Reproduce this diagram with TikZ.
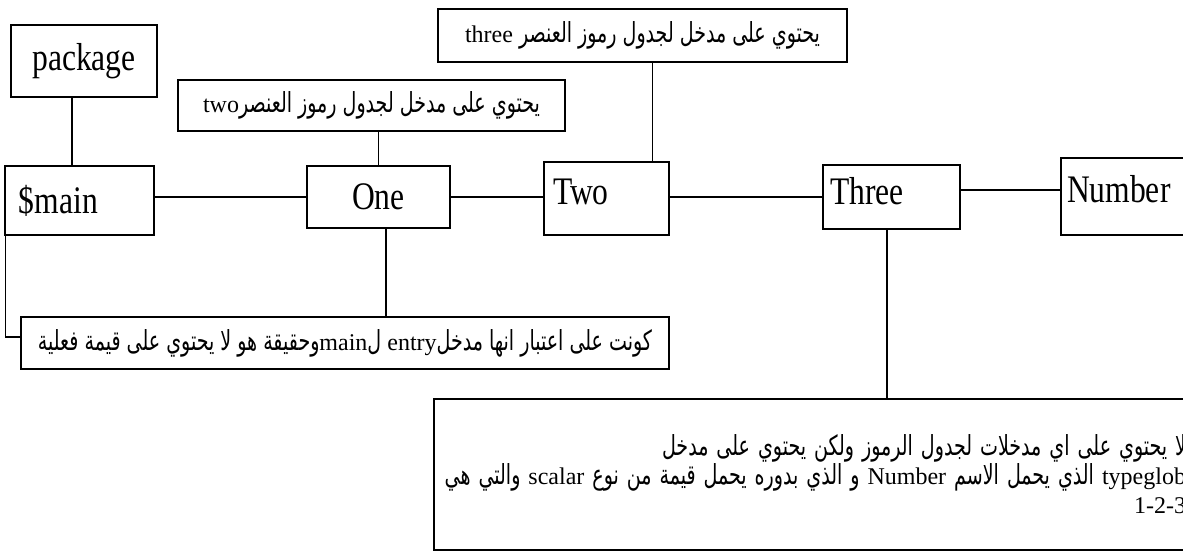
\documentclass[tikz,border=0pt]{standalone}
\usepackage{fontspec}
\setmainfont{Liberation Serif}
\newfontfamily\boxfont{Liberation Serif}[FakeStretch=0.81]
\newfontfamily\arabicfont{DejaVu Sans}[Script=Arabic,Scale=1.15,FakeStretch=0.69]
\TeXXeTstate=1
\usetikzlibrary{positioning, calc}

\tikzset{
  box/.style={shape=rectangle, draw=black, line width=1.3pt, inner sep=0pt, font=\boxfont\fontsize{39}{45}\selectfont},
  lbl/.style={shape=rectangle, draw=black, line width=1.3pt, inner sep=0pt, font=\fontsize{24}{29}\selectfont},
}

\begin{document}
\begin{tikzpicture}[x=1pt, y=-1pt, line width=1.3pt]
    \useasboundingbox (0,0) rectangle (1183,551);
    \clip (0,0) rectangle (1183,551);
    % the chain of names
    \node[box, minimum width=146pt, minimum height=72pt] (package) at (84,61) {package};
    \node[box, minimum height=69pt, text width=121pt, inner xsep=14pt, align=left] (smain) at (79.5,200.5) {\$main};
    \node[box, minimum width=143pt, minimum height=62pt] (one) at (378.5,197) {One};
    \node[box, minimum height=73pt, text width=107pt, inner xsep=9pt, align=left, text height=27pt, text depth=16pt] (two) at (606.5,198.5) {Two};
    \node[box, minimum height=64pt, text width=123pt, inner xsep=7pt, align=left, text height=27pt, text depth=13pt] (three) at (891.5,197) {Three};
    \node[box, minimum height=77pt, text width=138pt, inner xsep=6pt, align=left, text height=27pt, text depth=16pt] (number) at (1136,196.5) {Number};
    % notes
    \node[lbl, minimum width=387pt, minimum height=51pt] (twolbl) at (371.5,105.5) {\arabicfont\beginR يحتوي على مدخل لجدول رموز العنصر\beginL{\rmfamily two}\endL\endR};
    \node[lbl, minimum width=409pt, minimum height=53pt] (threelbl) at (642.5,35.5) {\arabicfont\beginR يحتوي على مدخل لجدول رموز العنصر \beginL{\rmfamily three}\endL\endR};
    \node[lbl, minimum width=648pt, minimum height=52pt] (mainlbl) at (345,343) {\arabicfont\beginR كونت على اعتبار انها مدخل\beginL{\rmfamily entry}\endL{} ل\beginL{\rmfamily main}\endL وحقيقة هو لا يحتوي على قيمة فعلية\endR};
    \node[lbl, minimum height=151pt, text width=746pt, inner xsep=6pt, align=right] (typelbl) at (813,474.5) {\arabicfont
      \beginR لا يحتوي على اي مدخلات لجدول الرموز ولكن يحتوي على مدخل\endR\\
      \beginR\beginL{\rmfamily typeglob}\endL{} الذي يحمل الاسم \beginL{\rmfamily Number}\endL{} و الذي بدوره يحمل قيمة من نوع \beginL{\rmfamily scalar}\endL{} والتي هي\endR\\
      \beginR\beginL{\rmfamily 1-2-3}\endL\endR};
    % connectors
    \draw ([xshift=-12pt]package.south) -- ([xshift=-12pt]package.south |- smain.north);
    \draw (smain.east |- one) -- (one.west);
    \draw (twolbl.south -| one) -- (one.north);
    \draw ([xshift=7.5pt]one.south) -- ([xshift=7.5pt]one.south |- mainlbl.north);
    \draw ([xshift=1pt]smain.south west) |- ([yshift=6pt]mainlbl.west);
    \draw ([xshift=10pt]threelbl.south) -- ([xshift=10pt]threelbl.south |- two.north);
    \draw (one.east) -- (one.east -| two.west);
    \draw (two.east |- three) -- (three.west);
    \draw ([yshift=7pt]three.east) -- ([yshift=7pt]three.east -| number.west);
    \draw ([xshift=-4.5pt]three.south) -- ([xshift=-4.5pt]three.south |- typelbl.north);
\end{tikzpicture}
\end{document}
